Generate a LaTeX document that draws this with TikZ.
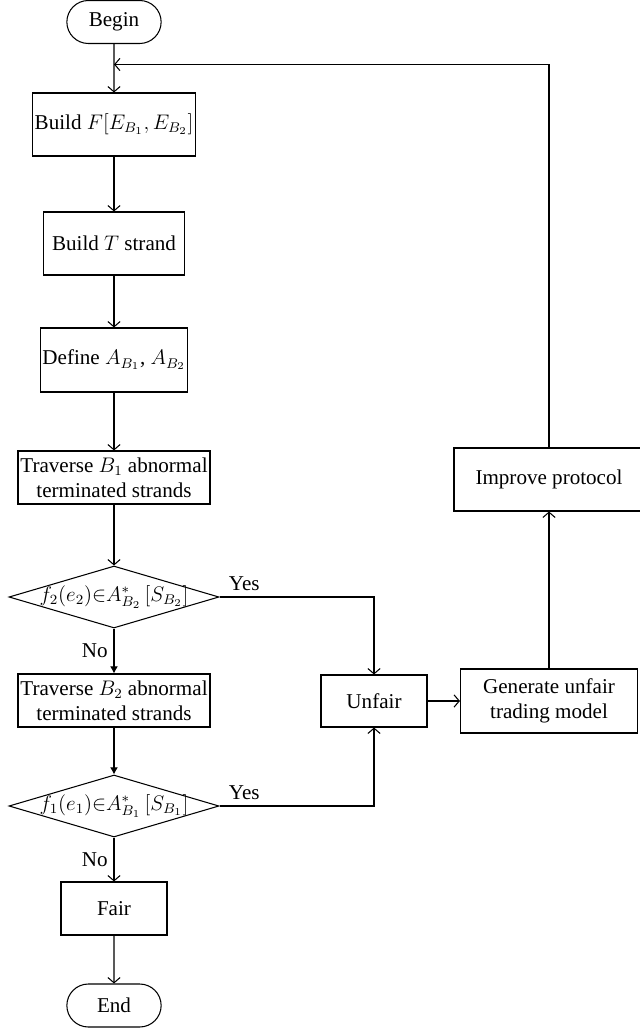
\documentclass[tikz,border=0pt]{standalone}
\usepackage{fontspec}
\setmainfont{Liberation Serif}
\usetikzlibrary{shapes.geometric,shapes.misc,arrows.meta,positioning}

\tikzset{
  box/.style={draw, rectangle, align=center, inner sep=1pt},
  terminal/.style={draw, rounded rectangle, minimum width=2.12cm, minimum height=0.86cm},
  decision/.style={draw, diamond, minimum width=4.2cm, minimum height=1.24cm, inner sep=0pt},
  solid arrow/.style={-{Latex[length=4pt,width=4.5pt]}},
}

\begin{document}
\begin{tikzpicture}[>={Straight Barb[length=3pt,width=7pt]}, font=\fontsize{12}{14}\selectfont, line width=0.6pt]
\useasboundingbox (0,0) rectangle (12.8,-20.62);

% main column
\node[terminal] (begin) at (2.28,-0.44) {Begin};
\node[box, minimum width=3.22cm, minimum height=1.26cm] (buildF) at (2.28,-2.49) {Build $F[E_{B_1}, E_{B_2}]$};
\node[box, minimum width=2.82cm, minimum height=1.26cm] (buildT) at (2.28,-4.87) {Build $T$ strand};
\node[box, minimum width=2.88cm, minimum height=1.28cm] (define) at (2.28,-7.20) {Define $A_{B_1}$, $A_{B_2}$};
\node[box, minimum width=3.84cm, minimum height=1.06cm] (trav1) at (2.28,-9.55) {Traverse $B_1$ abnormal\\terminated strands};
\node[decision, label=center:{$f_2(e_2){\in}A^{*}_{B_2}\,[S_{B_2}]$}] (dec1) at (2.28,-11.94) {};
\node[box, minimum width=3.84cm, minimum height=1.06cm] (trav2) at (2.28,-14.01) {Traverse $B_2$ abnormal\\terminated strands};
\node[decision, label=center:{$f_1(e_1){\in}A^{*}_{B_1}\,[S_{B_1}]$}] (dec2) at (2.28,-16.12) {};
\node[box, minimum width=2.12cm, minimum height=1.06cm] (fair) at (2.28,-18.17) {Fair};
\node[terminal] (endn) at (2.28,-20.11) {End};

% right side
\node[box, minimum width=2.12cm, minimum height=1.04cm] (unfair) at (7.48,-14.02) {Unfair};
\node[box, minimum width=3.54cm, minimum height=1.28cm] (gen) at (10.98,-14.02) {Generate unfair\\trading model};
\node[box, minimum width=3.8cm, minimum height=1.26cm] (improve) at (10.98,-9.59) {Improve protocol};
\coordinate (join) at (2.28,-1.29);

\draw[->] (begin) -- (buildF);
\draw[->] (buildF) -- (buildT);
\draw[->] (buildT) -- (define);
\draw[->] (define) -- (trav1);
\draw[->] (trav1) -- (dec1);
\draw[solid arrow] (dec1.south) -- node[left] {No} (trav2);
\draw[solid arrow] (trav2) -- (dec2.north);
\draw[->] (dec2.south) -- node[left] {No} (fair);
\draw[->] (fair) -- (endn);
\draw[->] (dec1.east) -| node[pos=0.08, above] {Yes} (unfair.north);
\draw[->] (dec2.east) -| node[pos=0.08, above] {Yes} (unfair.south);
\draw[->] (unfair) -- (gen);
\draw[->] (gen) -- (improve);
\draw[->] (improve.north) |- (join);
\end{tikzpicture}
\end{document}
